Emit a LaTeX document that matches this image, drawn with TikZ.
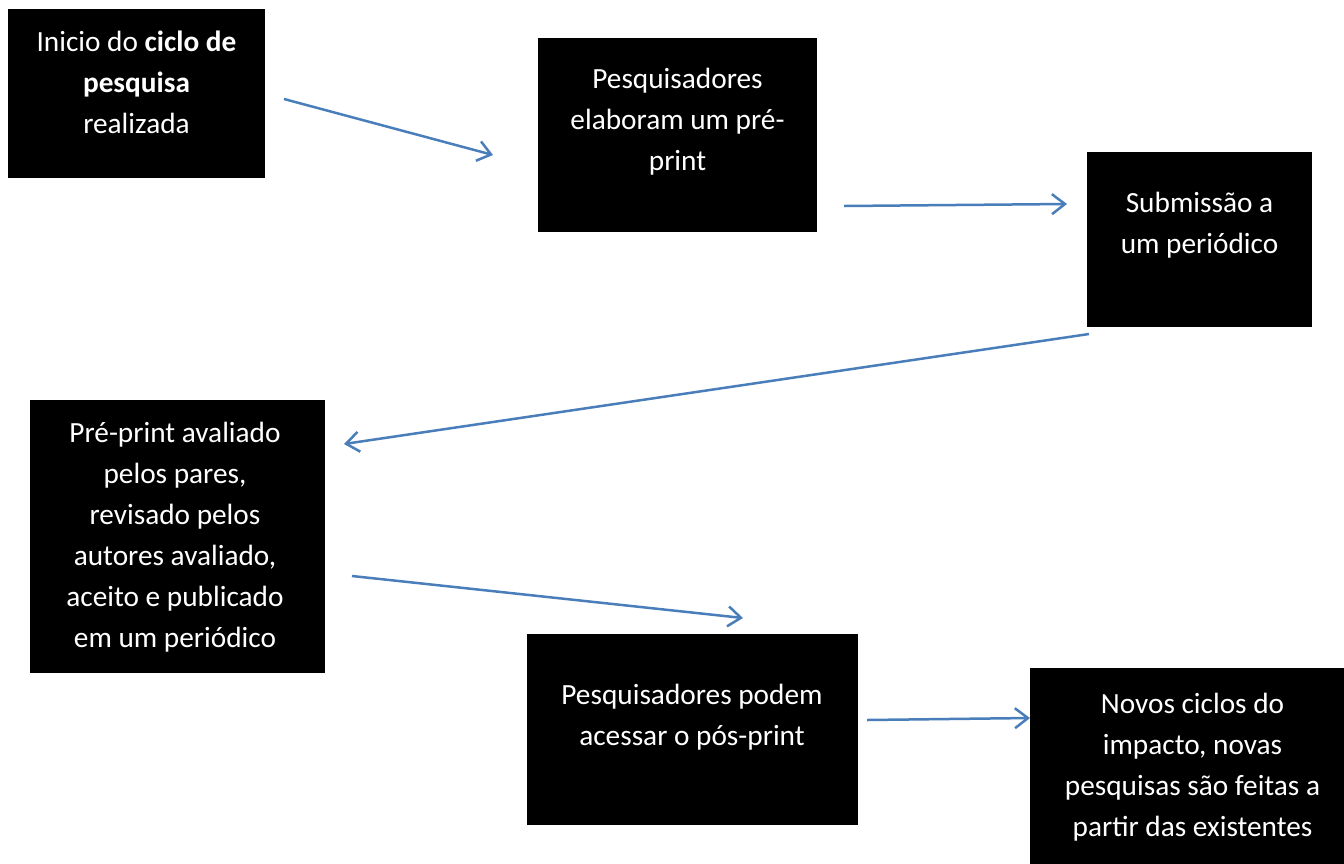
\documentclass[tikz,border=0pt]{standalone}
\usepackage{fontspec}
\setmainfont{Carlito}
\usetikzlibrary{arrows.meta}
\definecolor{arblue}{HTML}{4A7EBB}
\begin{document}
\begin{tikzpicture}[x=1pt, y=-1pt,
        box/.style={fill=black, inner sep=0pt},
        txt/.style={text=white, anchor=base, align=center, inner sep=0pt,
            font=\fontsize{29.3}{41}\selectfont},
        ar/.style={draw=arblue, line width=2.5pt,
            -{Straight Barb[length=13pt,width=20pt]}}]
                \clip (0,0) rectangle (1344,863);
                \fill[white] (0,0) rectangle (1344,863);

                \node[box, minimum width=257pt, minimum height=169pt] (b1) at (136.5,93.5) {};
                \node[box, minimum width=279pt, minimum height=194pt] (b2) at (677.5,135) {};
                \node[box, minimum width=225pt, minimum height=175pt] (b3) at (1199.5,239.5) {};
                \node[box, minimum width=295pt, minimum height=273pt] (b4) at (177.5,536.5) {};
                \node[box, minimum width=331pt, minimum height=191pt] (b5) at (692.5,729.5) {};
                \node[box, minimum width=325pt, minimum height=210pt] (b6) at (1192.5,773) {};

                % base = last line
                \node[txt] (t1) at (136.5,133.5) {Inicio do \textbf{ciclo de}\\\textbf{pesquisa}\\realizada};
                \node[txt] (t2) at (677.5,170.5) {Pesquisadores\\elaboram um pré-\\print};
                \node[txt] (t3) at (1199.5,253) {Submissão a\\um periódico};
                \node[txt] (t4) at (175,647.5) {Pré-print avaliado\\pelos pares,\\revisado pelos\\autores avaliado,\\aceito e publicado\\em um periódico};
                \node[txt] (t5) at (692,745) {Pesquisadores podem\\acessar o pós-print};
                \node[txt] (t6) at (1192.5,836) {Novos ciclos do\\impacto, novas\\pesquisas são feitas a\\partir das existentes};

                \coordinate (s1) at (284,99);
                \coordinate (e1) at (493,155);
                \coordinate (s2) at (844,206);
                \coordinate (e2) at (1067,204);
                \coordinate (s3) at (1089,334);
                \coordinate (e3) at (344,444);
                \coordinate (s4) at (352,576);
                \coordinate (e4) at (743,618);
                \coordinate (s5) at (867,720);
                \coordinate (e5) at (1030,718);

                \draw[ar] (s1) -- (e1);
                \draw[ar] (s2) -- (e2);
                \draw[ar] (s3) -- (e3);
                \draw[ar] (s4) -- (e4);
                \draw[ar] (s5) -- (e5);
            \end{tikzpicture}
\end{document}
